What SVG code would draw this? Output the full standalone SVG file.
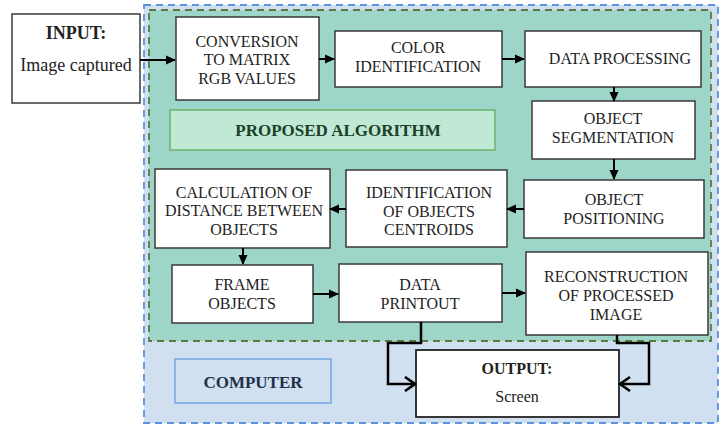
<svg xmlns="http://www.w3.org/2000/svg" width="722" height="425" viewBox="0 0 722 425">
<style>
.box{fill:#fff;stroke:#3a3a3a;stroke-width:1.5}
.t{font-family:'Liberation Serif','DejaVu Serif',serif;font-size:16px;fill:#222;text-anchor:middle}
.b{font-weight:bold}
.c{fill:none;stroke:#000;stroke-width:2}
.c2{fill:none;stroke:#000;stroke-width:2.5}
</style>
<defs>
<marker id="ah" markerUnits="userSpaceOnUse" markerWidth="10" markerHeight="10" viewBox="0 0 10 10" refX="9" refY="5" orient="auto">
<path d="M0,0.5 L10,5 L0,9.5 z" fill="#000"/>
</marker>
<marker id="oh" markerUnits="userSpaceOnUse" markerWidth="14" markerHeight="16" viewBox="0 0 14 16" refX="12" refY="8" orient="auto">
<path d="M2,1 L12,8 L2,15" fill="none" stroke="#000" stroke-width="2.5"/>
</marker>
</defs>
<g id="computer-region">
<rect x="144" y="5" width="574" height="418" fill="#d0e0f1" stroke="#5b93de" stroke-width="1.8" stroke-dasharray="7,5"/>
</g>
<g id="algorithm-region">
<rect x="149" y="10" width="562" height="331" fill="#9dd5c9" stroke="#5e7a3e" stroke-width="1.8" stroke-dasharray="7,5"/>
</g>
<g id="proposed-label">
<rect x="170" y="110" width="325" height="40" fill="#bfe9d4" stroke="#6cb36a" stroke-width="1.5"/>
<text class="t b" x="338" y="136" font-family="Liberation Serif, serif" style="font-size:17px;fill:#1c3f28">PROPOSED ALGORITHM</text>
</g>
<g id="computer-label">
<rect x="175" y="359" width="156" height="44" fill="#d0e0f1" stroke="#73a6e3" stroke-width="1.5"/>
<text class="t b" x="253" y="388" style="font-size:17px;fill:#22304a">COMPUTER</text>
</g>
<g id="input">
<rect class="box" x="12" y="14" width="128" height="89"/>
<text class="t b" x="76" y="39" style="font-size:18px">INPUT:</text>
<text class="t" x="76" y="71" style="font-size:18px">Image captured</text>
</g>
<g id="conversion">
<rect class="box" x="176" y="17" width="143" height="83"/>
<text class="t" x="247" y="47">CONVERSION</text>
<text class="t" x="247" y="65">TO MATRIX</text>
<text class="t" x="247" y="84">RGB VALUES</text>
</g>
<g id="color">
<rect class="box" x="335" y="31" width="167" height="56"/>
<text class="t" x="418" y="53">COLOR</text>
<text class="t" x="418" y="72">IDENTIFICATION</text>
</g>
<g id="data-processing">
<rect class="box" x="525" y="31" width="176" height="56"/>
<text class="t" x="620" y="64">DATA PROCESSING</text>
</g>
<g id="segmentation">
<rect class="box" x="532" y="101" width="163" height="58"/>
<text class="t" x="613" y="124">OBJECT</text>
<text class="t" x="613" y="143">SEGMENTATION</text>
</g>
<g id="positioning">
<rect class="box" x="524" y="180" width="180" height="58"/>
<text class="t" x="614" y="205">OBJECT</text>
<text class="t" x="614" y="224">POSITIONING</text>
</g>
<g id="centroids">
<rect class="box" x="346" y="170" width="161" height="77"/>
<text class="t" x="429" y="198">IDENTIFICATION</text>
<text class="t" x="429" y="217">OF OBJECTS</text>
<text class="t" x="429" y="235">CENTROIDS</text>
</g>
<g id="distance">
<rect class="box" x="155" y="169" width="175" height="79"/>
<text class="t" x="244" y="198">CALCULATION OF</text>
<text class="t" x="244" y="216">DISTANCE BETWEEN</text>
<text class="t" x="244" y="235">OBJECTS</text>
</g>
<g id="frame">
<rect class="box" x="172" y="265" width="141" height="58"/>
<text class="t" x="242" y="290">FRAME</text>
<text class="t" x="242" y="309">OBJECTS</text>
</g>
<g id="printout">
<rect class="box" x="339" y="264" width="163" height="58"/>
<text class="t" x="420" y="290">DATA</text>
<text class="t" x="420" y="309">PRINTOUT</text>
</g>
<g id="reconstruction">
<rect class="box" x="526" y="252" width="182" height="83"/>
<text class="t" x="616" y="282">RECONSTRUCTION</text>
<text class="t" x="616" y="301">OF PROCESSED</text>
<text class="t" x="616" y="320">IMAGE</text>
</g>
<g id="output">
<rect class="box" x="416" y="350" width="203" height="67" style="stroke-width:1.8;stroke:#222"/>
<text class="t b" x="517" y="374">OUTPUT:</text>
<text class="t" x="517" y="402">Screen</text>
</g>
<g id="connectors">
<line class="c" x1="140" y1="60" x2="175" y2="60" marker-end="url(#ah)"/>
<line class="c" x1="319" y1="59" x2="334" y2="59" marker-end="url(#ah)"/>
<line class="c" x1="502" y1="59" x2="524" y2="59" marker-end="url(#ah)"/>
<line class="c" x1="614" y1="87" x2="614" y2="101" marker-end="url(#ah)"/>
<line class="c" x1="614" y1="159" x2="614" y2="179" marker-end="url(#ah)"/>
<line class="c" x1="524" y1="209" x2="507" y2="209" marker-end="url(#ah)"/>
<line class="c" x1="346" y1="209" x2="330" y2="209" marker-end="url(#ah)"/>
<line class="c" x1="243" y1="248" x2="243" y2="264" marker-end="url(#ah)"/>
<line class="c" x1="313" y1="294" x2="338" y2="294" marker-end="url(#ah)"/>
<line class="c" x1="502" y1="293" x2="525" y2="293" marker-end="url(#ah)"/>
<polyline class="c2" points="421,322 421,343 388,343 388,384 415,384" marker-end="url(#oh)"/>
<polyline class="c2" points="617,335 617,343 649,343 649,384 620,384" marker-end="url(#oh)"/>
</g>
</svg>
